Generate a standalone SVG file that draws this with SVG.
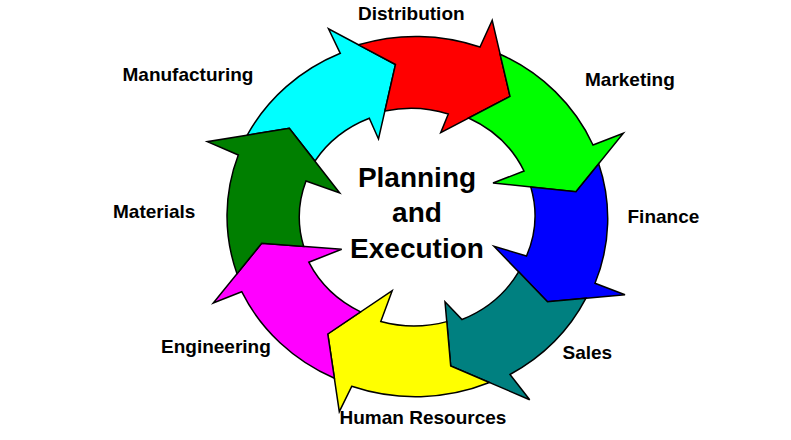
<svg xmlns="http://www.w3.org/2000/svg" width="791" height="440" viewBox="0 0 791 440">
<style>
.a{stroke:#000;stroke-width:1.5;stroke-linejoin:miter}
.lbl{font-family:"Liberation Sans",Arial,sans-serif;font-weight:bold;font-size:19px;fill:#000}
.ctr{font-family:"Liberation Sans",Arial,sans-serif;font-weight:bold;font-size:28px;fill:#000;text-anchor:middle}
</style>
<rect width="791" height="440" fill="#fff"/>
<g id="connectors">
<g id="cyan-arrow"><path class="a" fill="#00FFFF" d="M247.2,135.2 A190,180 0 0 1 340.3,53.3 L328.5,28.8 L395.5,64.5 L378.5,139 L369.3,118.3 A118,109 0 0 0 315,161 L289.3,128.3 Z"/></g>
<g id="red-arrow"><path class="a" fill="#FF0000" d="M358.5,44.8 A190,180 0 0 1 480,47 L492.2,20.3 L510,96.3 L440.7,132.7 L448.3,114 A118,109 0 0 0 384.9,111.1 L395.5,64.5 Z"/></g>
<g id="green-arrow"><path class="a" fill="#00FF00" d="M500.1,54.2 A190,180 0 0 1 593,145 L623.3,133.3 L576,191.7 L493,183 L524,171 A118,109 0 0 0 468.6,118 L510,96.3 Z"/></g>
<g id="blue-arrow"><path class="a" fill="#0000FF" d="M598.7,163.7 A190,180 0 0 1 595,283.3 L625,294.7 L547.5,301.7 L494,246.3 L526.5,256 A118,109 0 0 0 530.8,187 L576,191.7 Z"/></g>
<g id="teal-arrow"><path class="a" fill="#008080" d="M586,298.2 A190,180 0 0 1 510,374.5 L529.7,399.7 L450.7,366 L445,301.7 L462,319.5 A118,109 0 0 0 518.6,271.8 L547.5,301.7 Z"/></g>
<g id="yellow-arrow"><path class="a" fill="#FFFF00" d="M489.4,382.5 A190,180 0 0 1 351.7,386.3 L339.3,411.7 L327.8,334 L392.2,290.7 L380.8,321.5 A118,109 0 0 0 446.8,321.6 L450.7,366 Z"/></g>
<g id="magenta-arrow"><path class="a" fill="#FF00FF" d="M334.4,378.2 A190,180 0 0 1 241.7,291.7 L213.3,303 L261.7,243.3 L341.7,249.3 L308.8,262.2 A118,109 0 0 0 360.6,311.9 L327.8,334 Z"/></g>
<g id="darkgreen-arrow"><path class="a" fill="#007F00" d="M237,273.7 A190,180 0 0 1 238.3,155 L207.3,141.7 L289.3,128.3 L339.7,193 L306,181 A118,109 0 0 0 303.7,246.45 L261.7,243.3 Z"/></g>
</g>
<g id="center"><text class="ctr" x="417" y="187">Planning</text><text class="ctr" x="417" y="222">and</text><text class="ctr" x="417" y="257.5">Execution</text></g>
<g id="distribution"><text class="lbl" x="358" y="20">Distribution</text></g>
<g id="marketing"><text class="lbl" x="585" y="86">Marketing</text></g>
<g id="finance"><text class="lbl" x="627.5" y="223">Finance</text></g>
<g id="sales"><text class="lbl" x="562.5" y="359">Sales</text></g>
<g id="human-resources"><text class="lbl" x="339.5" y="424">Human Resources</text></g>
<g id="engineering"><text class="lbl" x="161" y="353">Engineering</text></g>
<g id="materials"><text class="lbl" x="113" y="218">Materials</text></g>
<g id="manufacturing"><text class="lbl" x="122.5" y="81">Manufacturing</text></g>
</svg>
